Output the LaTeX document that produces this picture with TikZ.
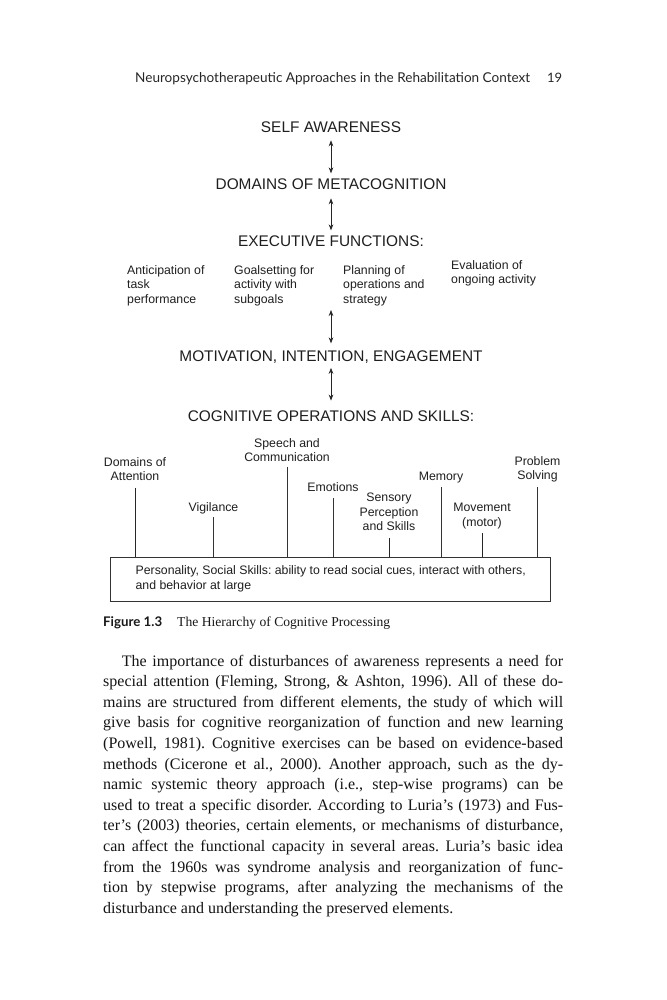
\documentclass[tikz,border=0pt]{standalone}
\usepackage{fontspec}
\usepackage{graphicx}
\setmainfont{Liberation Serif}
\newfontfamily\arialf{Liberation Sans}
\newfontfamily\latof{Lato}
\usetikzlibrary{arrows.meta}
\frenchspacing
\begin{document}
\begin{tikzpicture}[x=1pt,y=-1pt,
  title/.style={font=\arialf\fontsize{15.4}{18}\selectfont, anchor=base, inner sep=0pt, text=black!88},
  lab/.style={font=\arialf\fontsize{12.3}{14.5}\selectfont, inner sep=0pt, text=black!88},
  dbl/.style={<->, >={Stealth[length=6pt,width=4.6pt]}, line width=0.7pt, draw=black!85},
  tick/.style={line width=0.7pt, draw=black!80},
  thicktick/.style={line width=0.9pt, draw=black!85},
  body/.style={font=\fontsize{16}{20}\selectfont, anchor=base west, inner sep=0pt, text=black!92}]
\useasboundingbox[fill=white] (0,0) rectangle (666,1000);

% running header
\node[anchor=base west, inner sep=0pt, text=black!85] (hdr) at (135,82.5)
  {\resizebox{395pt}{!}{\latof\fontsize{13}{15}\selectfont Neuropsychotherapeutic Approaches in the Rehabilitation Context}};
\node[anchor=base west, inner sep=0pt, text=black!85, font=\latof\fontsize{13}{15}\selectfont] (pg) at (547,82.5) {19};

% titles
\node[title] (self) at (331,133) {SELF AWARENESS};
\node[title] (dom) at (331,190) {DOMAINS OF METACOGNITION};
\node[title] (exec) at (331,247) {EXECUTIVE FUNCTIONS:};
\node[title] (motiv) at (331,361) {MOTIVATION, INTENTION, ENGAGEMENT};
\node[title] (cog) at (331,421.5) {COGNITIVE OPERATIONS AND SKILLS:};

% executive function items
\node[lab, anchor=north west, align=left] (antic) at (127,265) {Anticipation of\\task\\performance};
\node[lab, anchor=north west, align=left] (goal) at (234,265) {Goalsetting for\\activity with\\subgoals};
\node[lab, anchor=north west, align=left] (plan) at (343,265) {Planning of\\operations and\\strategy};
\node[lab, anchor=north west, align=left] (eval) at (451,260) {Evaluation of\\ongoing activity};
\coordinate (efbot) at (331,310);

% arrows
\draw[dbl, shorten <=7pt, shorten >=5.7pt] (self.south) -- (dom.north);
\draw[dbl, shorten <=8pt, shorten >=5.7pt] (dom.south) -- (exec.north);
\draw[dbl, shorten >=6.7pt] (efbot) -- (motiv.north);
\draw[dbl, shorten <=4.7pt, shorten >=10pt] (motiv.south) -- (cog.north);

% cognitive operations
\node[lab, anchor=north, align=center] (att) at (135,457) {Domains of\\Attention};
\node[lab, anchor=north, align=center] (speech) at (287,438) {Speech and\\Communication};
\node[lab, anchor=north, align=center] (vig) at (213.5,502) {Vigilance};
\node[lab, anchor=north, align=center] (emo) at (333,482) {Emotions};
\node[lab, anchor=north, align=center] (sens) at (389,493) {Sensory\\Perception\\and Skills};
\node[lab, anchor=north, align=center] (mem) at (441,472) {Memory};
\node[lab, anchor=north, align=center] (move) at (482,503) {Movement\\(motor)};
\node[lab, anchor=north, align=center] (prob) at (537.5,456) {Problem\\Solving};

% base box
\node[lab, draw=black!80, line width=0.9pt, minimum width=440pt, minimum height=44pt, align=left] (box) at (330.7,579)
  {Personality, Social Skills: ability to read social cues, interact with others,\\and behavior at large};

% ticks
\draw[thicktick, shorten <=7pt] (att.south) -- (att.south |- box.north);
\draw[tick, shorten <=3.5pt] (vig.south) -- (vig.south |- box.north);
\draw[tick, shorten <=5pt] (speech.south) -- (speech.south |- box.north);
\draw[tick, shorten <=7pt] (emo.south) -- (emo.south |- box.north);
\draw[thicktick, shorten <=7pt] (sens.south) -- (sens.south |- box.north);
\draw[tick, shorten <=3.5pt] (mem.south) -- (mem.south |- box.north);
\draw[thicktick, shorten <=4.5pt] (move.south) -- (move.south |- box.north);
\draw[tick, shorten <=4.5pt] (prob.south) -- (prob.south |- box.north);

% caption
\node[anchor=base west, inner sep=0pt, text=black!90] (figlab) at (103,626)
  {\resizebox{59pt}{!}{\latof\bfseries\fontsize{13}{15}\selectfont Figure 1.3}};
\node[anchor=base west, inner sep=0pt, text=black!90, font=\fontsize{13.6}{16}\selectfont] (figcap) at (177,626)
  {The Hierarchy of Cognitive Processing};

% body text
\node[body] (l1) at (121.7,666) {\makebox[441.3pt][s]{The importance of disturbances of awareness represents a need for}};
\node[body] (l2) at (103,686.6) {\makebox[460pt][s]{special attention (Fleming, Strong, \& Ashton, 1996). All of these do-}};
\node[body] (l3) at (103,707.2) {\makebox[460pt][s]{mains are structured from different elements, the study of which will}};
\node[body] (l4) at (103,727.8) {\makebox[460pt][s]{give basis for cognitive reorganization of function and new learning}};
\node[body] (l5) at (103,748.4) {\makebox[460pt][s]{(Powell, 1981). Cognitive exercises can be based on evidence-based}};
\node[body] (l6) at (103,769) {\makebox[460pt][s]{methods (Cicerone et al., 2000). Another approach, such as the dy-}};
\node[body] (l7) at (103,789.6) {\makebox[460pt][s]{namic systemic theory approach (i.e., step-wise programs) can be}};
\node[body] (l8) at (103,810.2) {\makebox[460pt][s]{used to treat a specific disorder. According to Luria’s (1973) and Fus-}};
\node[body] (l9) at (103,830.8) {\makebox[460pt][s]{ter’s (2003) theories, certain elements, or mechanisms of disturbance,}};
\node[body] (l10) at (103,851.4) {\makebox[460pt][s]{can affect the functional capacity in several areas. Luria’s basic idea}};
\node[body] (l11) at (103,872) {\makebox[460pt][s]{from the 1960s was syndrome analysis and reorganization of func-}};
\node[body] (l12) at (103,892.6) {\makebox[460pt][s]{tion by stepwise programs, after analyzing the mechanisms of the}};
\node[body] (l13) at (103,913.2) {disturbance and understanding the preserved elements.};
\end{tikzpicture}
\end{document}
